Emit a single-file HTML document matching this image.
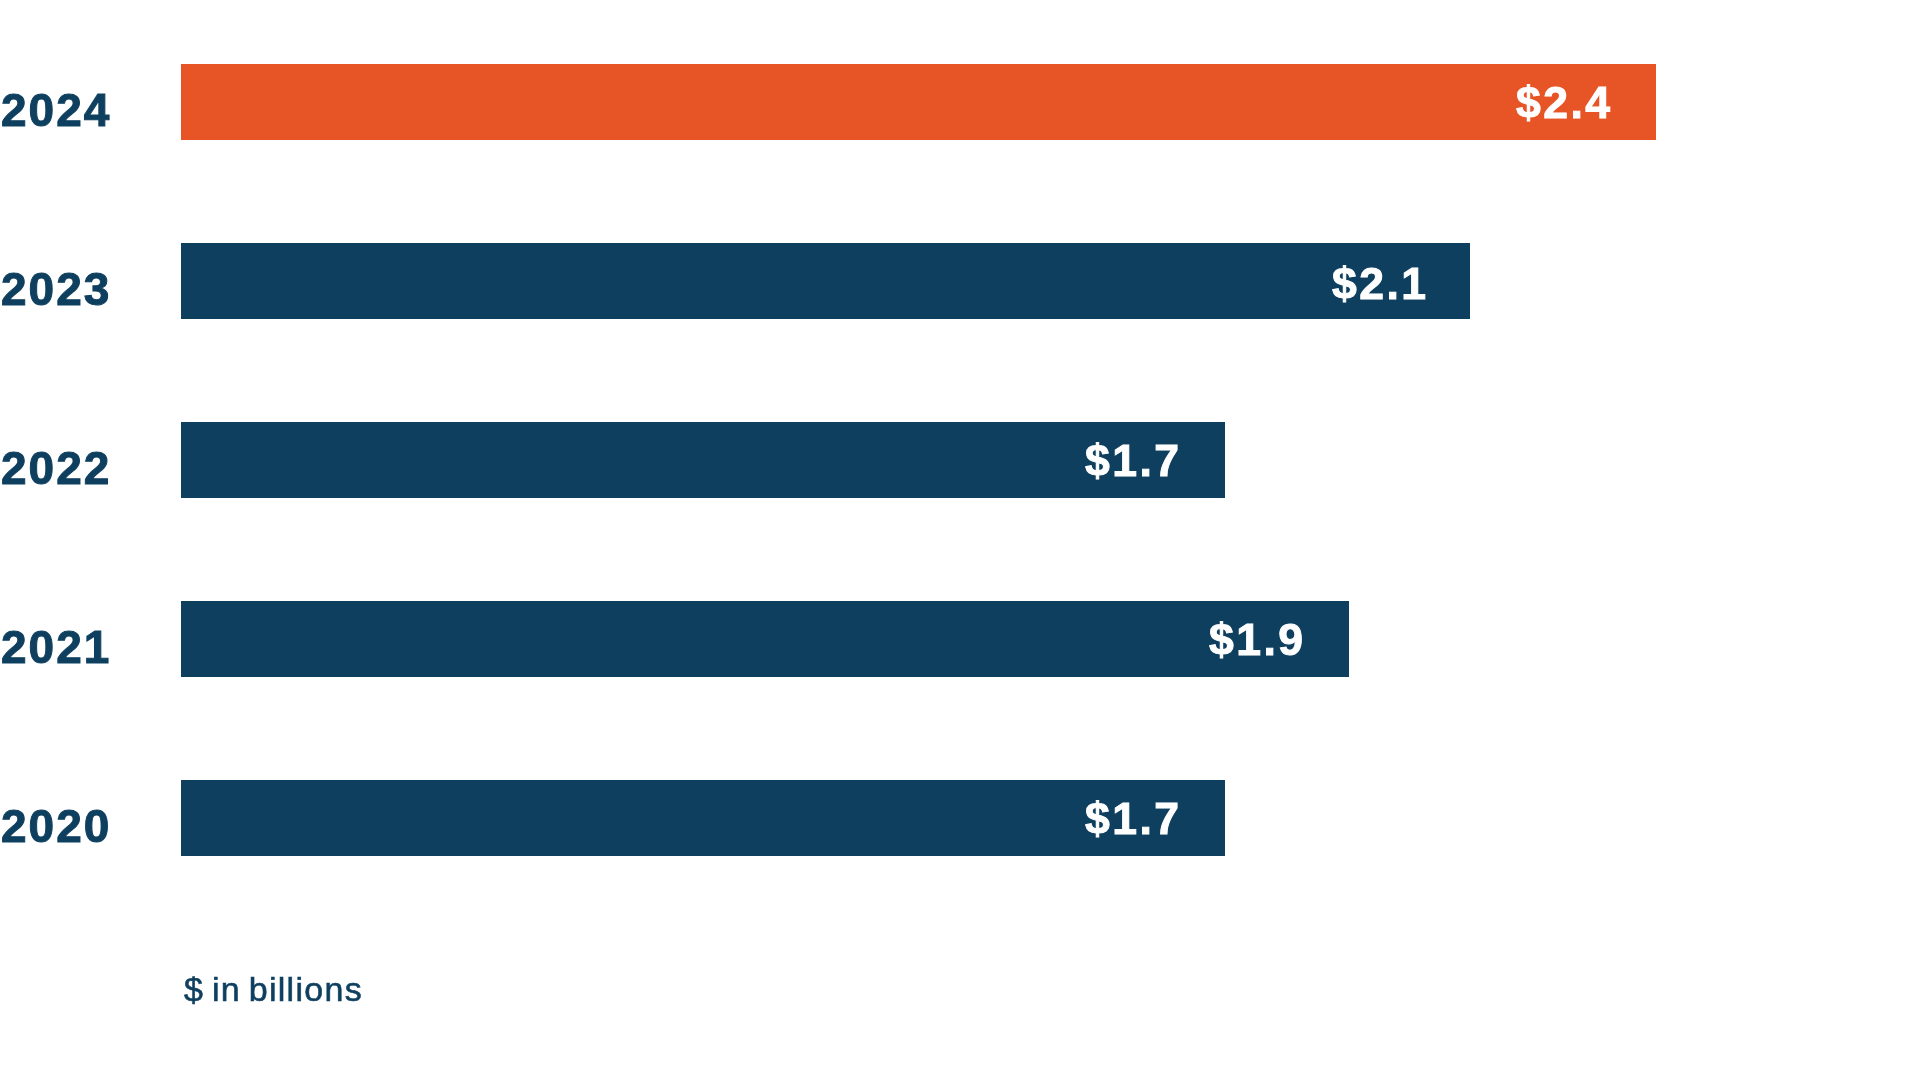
<!DOCTYPE html>
<html lang="en">
<head>
<meta charset="utf-8">
<title>Bar chart – $ in billions</title>
<style>
  html, body {
    margin: 0;
    padding: 0;
    width: 1920px;
    height: 1080px;
    background: #ffffff;
    overflow: hidden;
  }
  body {
    position: relative;
    font-family: "Liberation Sans", sans-serif;
    color: #0e3f5f;
  }
  .bar {
    position: absolute;
    left: 181px;
    height: 76px;
    background: #0e3f5f;
  }
  .bar.hl { background: #e75527; }
  .year {
    position: absolute;
    left: 1px;
    margin: 0;
    font-size: 46px;
    line-height: 48px;
    font-weight: 700;
    letter-spacing: 2px;
    will-change: transform;
    color: #0e3f5f;
    -webkit-text-stroke: 1px #0e3f5f;
    white-space: nowrap;
  }
  .val {
    position: absolute;
    right: 43px;
    top: 0;
    margin: 0;
    font-size: 44.5px;
    line-height: 47px;
    font-weight: 700;
    letter-spacing: 2.5px;
    will-change: transform;
    color: #ffffff;
    -webkit-text-stroke: 1px #ffffff;
    white-space: nowrap;
  }
  .note {
    position: absolute;
    left: 184px;
    top: 972px;
    margin: 0;
    font-size: 34px;
    line-height: 35px;
    font-weight: 400;
    letter-spacing: 1.29px;
    -webkit-text-stroke: 0.6px #0e3f5f;
    word-spacing: -3px;
    will-change: transform;
    color: #0e3f5f;
    white-space: nowrap;
  }
</style>
</head>
<body>

  <div class="year" style="top:86px">2024</div>
  <div class="bar hl" style="top:64px;width:1475px"><span class="val" style="top:15px">$2.4</span></div>

  <div class="year" style="top:265px">2023</div>
  <div class="bar" style="top:243px;width:1289px"><span class="val" style="top:17px;right:41px">$2.1</span></div>

  <div class="year" style="top:444px">2022</div>
  <div class="bar" style="top:422px;width:1044px"><span class="val" style="top:15px">$1.7</span></div>

  <div class="year" style="top:623px">2021</div>
  <div class="bar" style="top:601px;width:1168px"><span class="val" style="top:15px">$1.9</span></div>

  <div class="year" style="top:802px">2020</div>
  <div class="bar" style="top:780px;width:1044px"><span class="val" style="top:15px">$1.7</span></div>

  <div class="note">$ in billions</div>

</body>
</html>
